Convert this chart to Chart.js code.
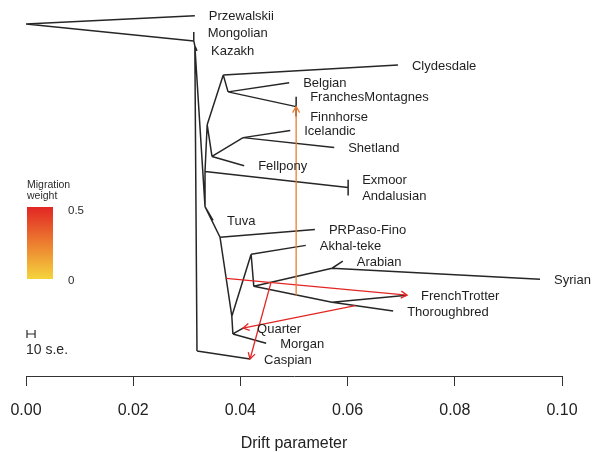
<!DOCTYPE html>
<html>
<head>
<meta charset="utf-8">
<script src="https://cdn.jsdelivr.net/npm/chart.js@4.4.1/dist/chart.umd.min.js"></script>
<style>
  html, body { margin: 0; padding: 0; background: #ffffff; }
  #wrap { width: 595px; height: 452px; }
</style>
</head>
<body>
<div id="wrap"><canvas id="tree" width="595" height="452"></canvas></div>
<script>
// Sampled populations (tips): drift from the root and vertical layout position (0 = bottom, 1 = top)
const tipNames = ['Przewalskii', 'Mongolian', 'Kazakh', 'Clydesdale', 'Belgian', 'FranchesMontagnes',
  'Finnhorse', 'Icelandic', 'Shetland', 'Fellpony', 'Exmoor', 'Andalusian', 'Tuva', 'PRPaso-Fino',
  'Akhal-teke', 'Arabian', 'Syrian', 'FrenchTrotter', 'Thoroughbred', 'Quarter', 'Morgan', 'Caspian'];
const tipDrift = [0.0315, 0.0313, 0.0319, 0.0694, 0.0491, 0.0504, 0.0504, 0.0493, 0.0575, 0.0407, 0.0601,
  0.0601, 0.0349, 0.0539, 0.0522, 0.0591, 0.0959, 0.0711, 0.0685, 0.0405, 0.0448, 0.0418];
const tipY = [0.976, 0.932, 0.881, 0.843, 0.795, 0.757, 0.703, 0.665, 0.619, 0.570, 0.532, 0.489, 0.422,
  0.397, 0.354, 0.311, 0.262, 0.219, 0.176, 0.130, 0.089, 0.046];

// Internal (ancestral) nodes
const innerNames = ['root', 'n1', 'n2', 'nCas', 'nT', 'nE', 'nX', 'nK', 'nCL', 'nB', 'nF', 'nI', 'nIS',
  'nPR', 'nQ', 'nA', 'nAT', 'nAR', 'nTF', 'nQM'];
const innerDrift = [0, 0.0313, 0.0315, 0.0319, 0.0334, 0.0334, 0.0601, 0.0338, 0.0368, 0.0377, 0.0504,
  0.0347, 0.0405, 0.0362, 0.0384, 0.0420, 0.0425, 0.0571, 0.0571, 0.0386];
const innerY = [0.954, 0.908, 0.895, 0.068, 0.459, 0.554, 0.511, 0.681, 0.816, 0.770, 0.730, 0.595, 0.646,
  0.376, 0.162, 0.330, 0.243, 0.292, 0.200, 0.114];

// Tree branches: parent -> child
const edgeFrom = ['root', 'root', 'n1', 'n1', 'n2', 'n2', 'nCas', 'n2', 'nT', 'nE', 'nX', 'nX', 'nE', 'nK',
  'nCL', 'nCL', 'nB', 'nB', 'nF', 'nF', 'nK', 'nI', 'nIS', 'nIS', 'nI', 'nT', 'nT', 'nPR', 'nPR', 'nQ', 'nA',
  'nA', 'nAT', 'nAR', 'nAR', 'nAT', 'nTF', 'nTF', 'nQ', 'nQM', 'nQM'];
const edgeTo = ['Przewalskii', 'n1', 'Mongolian', 'n2', 'Kazakh', 'nCas', 'Caspian', 'nT', 'nE', 'nX',
  'Exmoor', 'Andalusian', 'nK', 'nCL', 'Clydesdale', 'nB', 'Belgian', 'nF', 'FranchesMontagnes', 'Finnhorse',
  'nI', 'nIS', 'Icelandic', 'Shetland', 'Fellpony', 'Tuva', 'nPR', 'PRPaso-Fino', 'nQ', 'nA', 'Akhal-teke',
  'nAT', 'nAR', 'Arabian', 'Syrian', 'nTF', 'FrenchTrotter', 'Thoroughbred', 'nQM', 'Quarter', 'Morgan'];

// Migration events: source branch (parent, child, position along it), target node, weight
const migEdgeFrom = ['nAT', 'nPR', 'nAT', 'nTF'];
const migEdgeTo = ['nTF', 'nQ', 'nAR', 'Thoroughbred'];
const migFrac = [0.54, 0.52, 0.22, 0.38];
const migTarget = ['nF', 'FrenchTrotter', 'Caspian', 'Quarter'];
const migWeight = [0.25, 0.5, 0.5, 0.5];

// Axis
const xTickValues = [0, 0.02, 0.04, 0.06, 0.08, 0.10];
const seDrift = 0.00015;   // one standard error of drift

const FONT = '"Liberation Sans", Arial, Helvetica, sans-serif';

const nodes = {};
tipNames.forEach((n, i) => { nodes[n] = { x: tipDrift[i], y: tipY[i] }; });
innerNames.forEach((n, i) => { nodes[n] = { x: innerDrift[i], y: innerY[i] }; });

// Colour ramp for migration weight: yellow (0) -> red (0.5)
const lowRGB = [245, 212, 60];
const highRGB = [226, 38, 36];
function weightColor(w) {
  const t = Math.max(0, Math.min(1, w / 0.5));
  const c = lowRGB.map((v, k) => Math.round(v + (highRGB[k] - v) * t));
  return `rgb(${c[0]},${c[1]},${c[2]})`;
}

// Branch segments, broken apart by gap points
const treePoints = [];
edgeFrom.forEach((p, i) => {
  const a = nodes[p], b = nodes[edgeTo[i]];
  treePoints.push({ x: a.x, y: a.y }, { x: b.x, y: b.y }, { x: (a.x + b.x) / 2, y: null });
});

// Migration arrows from a point on the source branch to the target node
const migrations = migEdgeFrom.map((p, i) => {
  const a = nodes[p], b = nodes[migEdgeTo[i]], t = nodes[migTarget[i]];
  const f = migFrac[i];
  return {
    from: { x: a.x + (b.x - a.x) * f, y: a.y + (b.y - a.y) * f },
    to: { x: t.x, y: t.y },
    color: weightColor(migWeight[i])
  };
});

const datasets = [{
  label: 'tree',
  data: treePoints,
  showLine: true,
  spanGaps: false,
  borderColor: '#262626',
  borderWidth: 1.5,
  pointRadius: 0,
  order: 2
}];
migrations.forEach((m, i) => {
  datasets.push({
    label: 'migration ' + (i + 1),
    data: [m.from, m.to],
    showLine: true,
    borderColor: m.color,
    borderWidth: 1.3,
    pointRadius: 0,
    order: 1
  });
});

function arrowHead(ctx, x0, y0, x1, y1, len) {
  const a = Math.atan2(y1 - y0, x1 - x0);
  ctx.beginPath();
  ctx.moveTo(x1 - len * Math.cos(a - Math.PI / 6), y1 - len * Math.sin(a - Math.PI / 6));
  ctx.lineTo(x1, y1);
  ctx.lineTo(x1 - len * Math.cos(a + Math.PI / 6), y1 - len * Math.sin(a + Math.PI / 6));
  ctx.stroke();
}

const treeDecor = {
  id: 'treeDecor',
  afterDatasetsDraw(chart) {
    const { ctx, scales: { x, y } } = chart;
    ctx.save();

    // arrow heads on migration edges
    migrations.forEach(m => {
      ctx.strokeStyle = m.color;
      ctx.lineWidth = 1.3;
      arrowHead(ctx, x.getPixelForValue(m.from.x), y.getPixelForValue(m.from.y),
        x.getPixelForValue(m.to.x), y.getPixelForValue(m.to.y), 7);
    });

    // population names beside their tips
    ctx.fillStyle = '#1f1f1f';
    ctx.font = '13px ' + FONT;
    ctx.textBaseline = 'middle';
    ctx.textAlign = 'left';
    tipNames.forEach((n, i) => {
      ctx.fillText(n, x.getPixelForValue(tipDrift[i]) + 14, y.getPixelForValue(tipY[i]) + 1);
    });

    // migration weight colour key
    const kx = 27, ky = 207, kw = 26, kh = 72;
    const g = ctx.createLinearGradient(0, ky, 0, ky + kh);
    g.addColorStop(0, weightColor(0.5));
    g.addColorStop(0.5, weightColor(0.25));
    g.addColorStop(1, weightColor(0));
    ctx.fillStyle = g;
    ctx.fillRect(kx, ky, kw, kh);
    ctx.fillStyle = '#2a2a2a';
    ctx.font = '10.5px ' + FONT;
    ctx.fillText('Migration', kx, 185);
    ctx.fillText('weight', kx, 196);
    ctx.font = '11.5px ' + FONT;
    ctx.fillText('0.5', 68, 211);
    ctx.fillText('0', 68, 281);

    // scale bar: 10 standard errors of drift
    const sx0 = x.getPixelForValue(0) + 1, sx1 = x.getPixelForValue(10 * seDrift) + 1, sy = 334;
    ctx.strokeStyle = '#2a2a2a';
    ctx.lineWidth = 1.2;
    ctx.beginPath();
    ctx.moveTo(sx0, sy); ctx.lineTo(sx1, sy);
    ctx.moveTo(sx0, sy - 4); ctx.lineTo(sx0, sy + 4);
    ctx.moveTo(sx1, sy - 4); ctx.lineTo(sx1, sy + 4);
    ctx.stroke();
    ctx.font = '14px ' + FONT;
    ctx.fillText('10 s.e.', 26, 350);

    ctx.restore();
  }
};

new Chart(document.getElementById('tree'), {
  type: 'scatter',
  data: { datasets },
  options: {
    responsive: false,
    devicePixelRatio: 1,
    animation: false,
    events: [],
    layout: { autoPadding: false, padding: { left: 26, right: 33, top: 7, bottom: 0 } },
    plugins: { legend: { display: false }, tooltip: { enabled: false } },
    scales: {
      x: {
        type: 'linear',
        position: 'bottom',
        min: 0,
        max: 0.1,
        afterBuildTicks: s => { s.ticks = xTickValues.map(v => ({ value: v })); },
        afterFit: s => { s.paddingLeft = 0; s.paddingRight = 0; },
        ticks: {
          callback: v => Number(v).toFixed(2),
          font: { family: FONT, size: 16, lineHeight: 1.0 },
          color: '#222',
          padding: 17,
          maxRotation: 0,
          autoSkip: false
        },
        grid: { display: true, drawOnChartArea: false, drawTicks: true, tickLength: 10, color: '#333', lineWidth: 1 },
        border: { display: true, color: '#333', width: 1 },
        title: {
          display: true,
          text: 'Drift parameter',
          font: { family: FONT, size: 16, lineHeight: 1.0 },
          color: '#222',
          padding: { top: 0, bottom: 0 }
        }
      },
      y: { type: 'linear', min: 0, max: 1, display: false }
    }
  },
  plugins: [treeDecor]
});
</script>
</body>
</html>
